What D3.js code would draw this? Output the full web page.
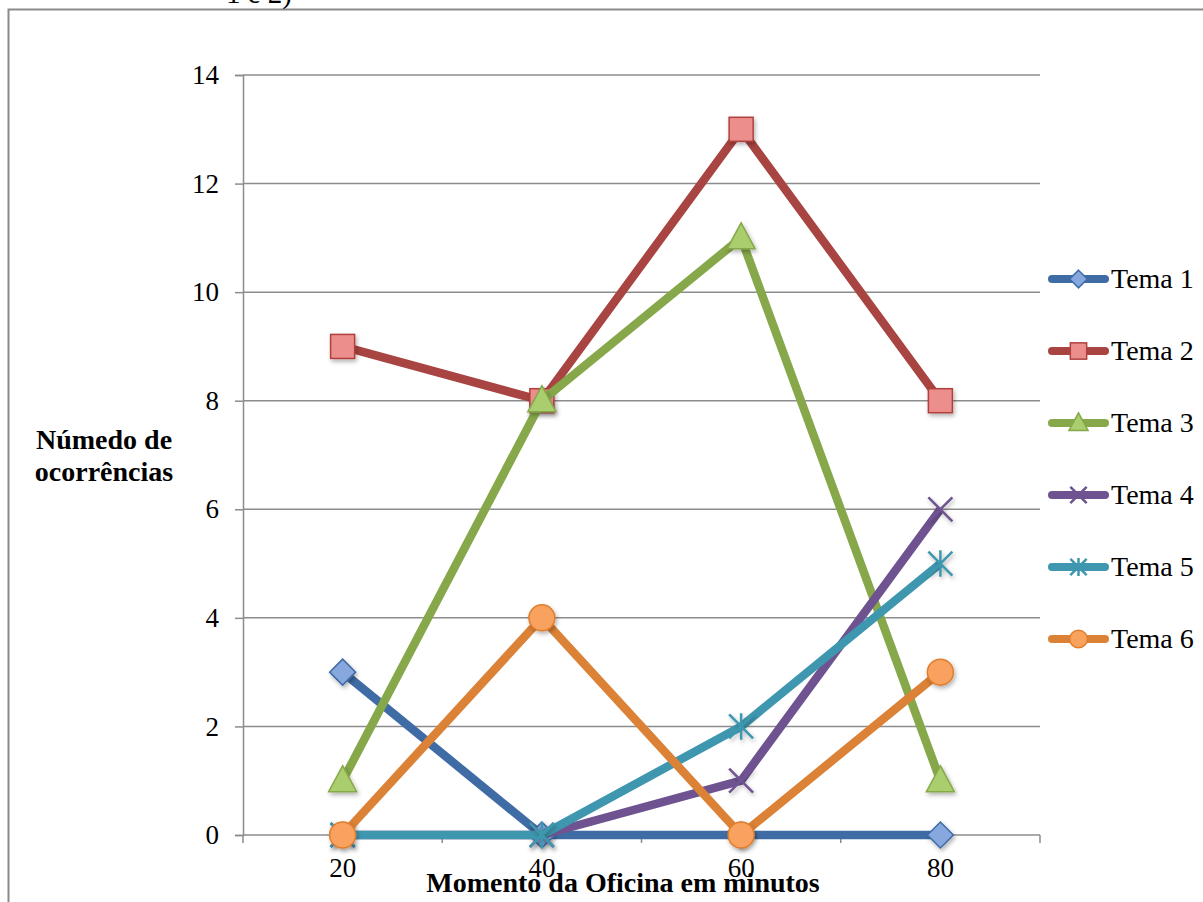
<!DOCTYPE html>
<html>
<head>
<meta charset="utf-8">
<script src="https://cdn.jsdelivr.net/npm/d3@7/dist/d3.min.js"></script>
<style>
  body { margin: 0; background: #fff; }
  svg { display: block; }
</style>
</head>
<body>
<div id="chart"></div>
<script>
// data
categories = [20, 40, 60, 80];
seriesNames = ['Tema 1', 'Tema 2', 'Tema 3', 'Tema 4', 'Tema 5', 'Tema 6'];
tema1 = [3, 0, 0, 0];
tema2 = [9, 8, 13, 8];
tema3 = [1, 8, 11, 1];
tema4 = [0, 0, 1, 6];
tema5 = [0, 0, 2, 5];
tema6 = [0, 4, 0, 3];
yTicks = [0, 2, 4, 6, 8, 10, 12, 14];

width = 1203;
height = 902;
margin = ({top: 75, right: 163, bottom: 67, left: 243});

const styles = [
    {line: '#3F6CA5', fill: '#86A8DE', stroke: '#3F6CA5', marker: 'diamond'},
    {line: '#A84441', fill: '#EC8F8C', stroke: '#B0413E', marker: 'square'},
    {line: '#86A84A', fill: '#AACD6D', stroke: '#86A84A', marker: 'triangle'},
    {line: '#6F5391', fill: 'none', stroke: '#6F5391', marker: 'x'},
    {line: '#3E97AF', fill: 'none', stroke: '#3E97AF', marker: 'star'},
    {line: '#DC8236', fill: '#F9A25E', stroke: '#E07E2E', marker: 'circle'}
];
const values = [tema1, tema2, tema3, tema4, tema5, tema6];
const serif = "'Liberation Serif', 'DejaVu Serif', serif";

const svg = d3.select('#chart').append('svg')
    .attr('width', width)
    .attr('height', height);

const defs = svg.append('defs');
defs.append('filter').attr('id', 'shadow')
    .attr('x', '-50%').attr('y', '-50%').attr('width', '200%').attr('height', '200%')
    .append('feDropShadow')
    .attr('dx', 1.5).attr('dy', 2.5).attr('stdDeviation', 2)
    .attr('flood-color', '#000').attr('flood-opacity', 0.3);

// outer frame (cut at the right and bottom)
svg.append('path')
    .attr('d', `M8.5,${height} V9.5 H${width}`)
    .attr('fill', 'none')
    .attr('stroke', '#8a8a8a')
    .attr('stroke-width', 2);

// left-over text from the page above
svg.append('text')
    .attr('x', 226).attr('y', 3)
    .attr('font-family', serif).attr('font-size', 29)
    .text('1 e 2)');

const x = d3.scaleBand()
    .domain(categories)
    .range([margin.left, width - margin.right]);

const y = d3.scaleLinear()
    .domain([0, 14])
    .range([height - margin.bottom, margin.top]);

const cx = d => x(d) + x.bandwidth() / 2;

// gridlines
svg.append('g')
    .selectAll('line')
    .data(yTicks.slice(1))
    .join('line')
    .attr('x1', margin.left).attr('x2', width - margin.right)
    .attr('y1', d => y(d)).attr('y2', d => y(d))
    .attr('stroke', '#8c8c8c').attr('stroke-width', 1.5);

// y axis
const yAxis = g => g
    .attr('transform', `translate(${margin.left},0)`)
    .call(d3.axisLeft(y).tickValues(yTicks).tickSize(8).tickPadding(16))
    .call(g => g.select('.domain').attr('stroke', '#8c8c8c').attr('stroke-width', 1.5))
    .call(g => g.selectAll('.tick line').attr('stroke', '#8c8c8c').attr('stroke-width', 1.5))
    .call(g => g.selectAll('.tick text')
        .attr('font-family', serif).attr('font-size', 27).attr('fill', '#000'));
svg.append('g').call(yAxis);

// x axis: ticks at band boundaries, labels at band centres
const xBase = height - margin.bottom;
const xg = svg.append('g');
xg.append('line')
    .attr('x1', margin.left).attr('x2', width - margin.right)
    .attr('y1', xBase).attr('y2', xBase)
    .attr('stroke', '#8c8c8c').attr('stroke-width', 1.5);
const bounds = categories.map(c => x(c)).concat([x(categories[categories.length - 1]) + x.bandwidth()]);
xg.selectAll('.xtick')
    .data(bounds)
    .join('line')
    .attr('class', 'xtick')
    .attr('x1', d => d).attr('x2', d => d)
    .attr('y1', xBase).attr('y2', xBase + 8)
    .attr('stroke', '#8c8c8c').attr('stroke-width', 1.5);
xg.selectAll('text')
    .data(categories)
    .join('text')
    .attr('x', d => cx(d))
    .attr('y', xBase + 42)
    .attr('text-anchor', 'middle')
    .attr('font-family', serif).attr('font-size', 27)
    .text(d => d);

// axis titles
svg.append('text')
    .attr('x', 623).attr('y', 892)
    .attr('text-anchor', 'middle')
    .attr('font-family', serif).attr('font-size', 28).attr('font-weight', 'bold')
    .text('Momento da Oficina em minutos');

const yTitle = svg.append('text')
    .attr('text-anchor', 'middle')
    .attr('font-family', serif).attr('font-size', 28).attr('font-weight', 'bold');
yTitle.append('tspan').attr('x', 104).attr('y', 449).text('Númedo de');
yTitle.append('tspan').attr('x', 104).attr('y', 481).text('ocorrências');

// markers
drawMarker = function(g, type, st, px, py, scale) {
    const s = scale || 1;
    if (type === 'diamond') {
        g.append('path')
            .attr('d', `M${px},${py - 13 * s} L${px + 13 * s},${py} L${px},${py + 13 * s} L${px - 13 * s},${py} Z`)
            .attr('fill', st.fill).attr('stroke', st.stroke).attr('stroke-width', 1.5);
    } else if (type === 'square') {
        g.append('rect')
            .attr('x', px - 12 * s).attr('y', py - 12 * s)
            .attr('width', 24 * s).attr('height', 24 * s)
            .attr('fill', st.fill).attr('stroke', st.stroke).attr('stroke-width', 1.5);
    } else if (type === 'triangle') {
        g.append('path')
            .attr('d', `M${px},${py - 15 * s} L${px + 14 * s},${py + 11 * s} L${px - 14 * s},${py + 11 * s} Z`)
            .attr('fill', st.fill).attr('stroke', st.stroke).attr('stroke-width', 1.5);
    } else if (type === 'circle') {
        g.append('circle')
            .attr('cx', px).attr('cy', py).attr('r', 13 * s)
            .attr('fill', st.fill).attr('stroke', st.stroke).attr('stroke-width', 1.5);
    } else if (type === 'x' || type === 'star') {
        const r = 12 * s;
        let d = `M${px - r},${py - r} L${px + r},${py + r} M${px - r},${py + r} L${px + r},${py - r}`;
        if (type === 'star') d += ` M${px},${py - r * 1.1} L${px},${py + r * 1.1}`;
        g.append('path')
            .attr('d', d)
            .attr('fill', 'none').attr('stroke', st.stroke).attr('stroke-width', 2.5);
    }
};

const line = d3.line()
    .x((d, i) => cx(categories[i]))
    .y(d => y(d));

values.forEach((vals, k) => {
    const st = styles[k];
    const g = svg.append('g');
    g.append('path')
        .datum(vals)
        .attr('d', line)
        .attr('fill', 'none')
        .attr('stroke', st.line)
        .attr('stroke-width', 8.5)
        .attr('stroke-linejoin', 'round');
    const mg = g.append('g').attr('filter', 'url(#shadow)');
    vals.forEach((v, i) => drawMarker(mg, st.marker, st, cx(categories[i]), y(v)));
});

// legend
const legend = svg.append('g');
seriesNames.forEach((name, k) => {
    const st = styles[k];
    const ly = 279 + k * 72;
    legend.append('line')
        .attr('x1', 1052).attr('x2', 1105)
        .attr('y1', ly).attr('y2', ly)
        .attr('stroke', st.line).attr('stroke-width', 8)
        .attr('stroke-linecap', 'round');
    drawMarker(legend, st.marker, st, 1078.5, ly, 0.68);
    legend.append('text')
        .attr('x', 1111).attr('y', ly + 9)
        .attr('font-family', serif).attr('font-size', 28)
        .text(name);
});
</script>
</body>
</html>
